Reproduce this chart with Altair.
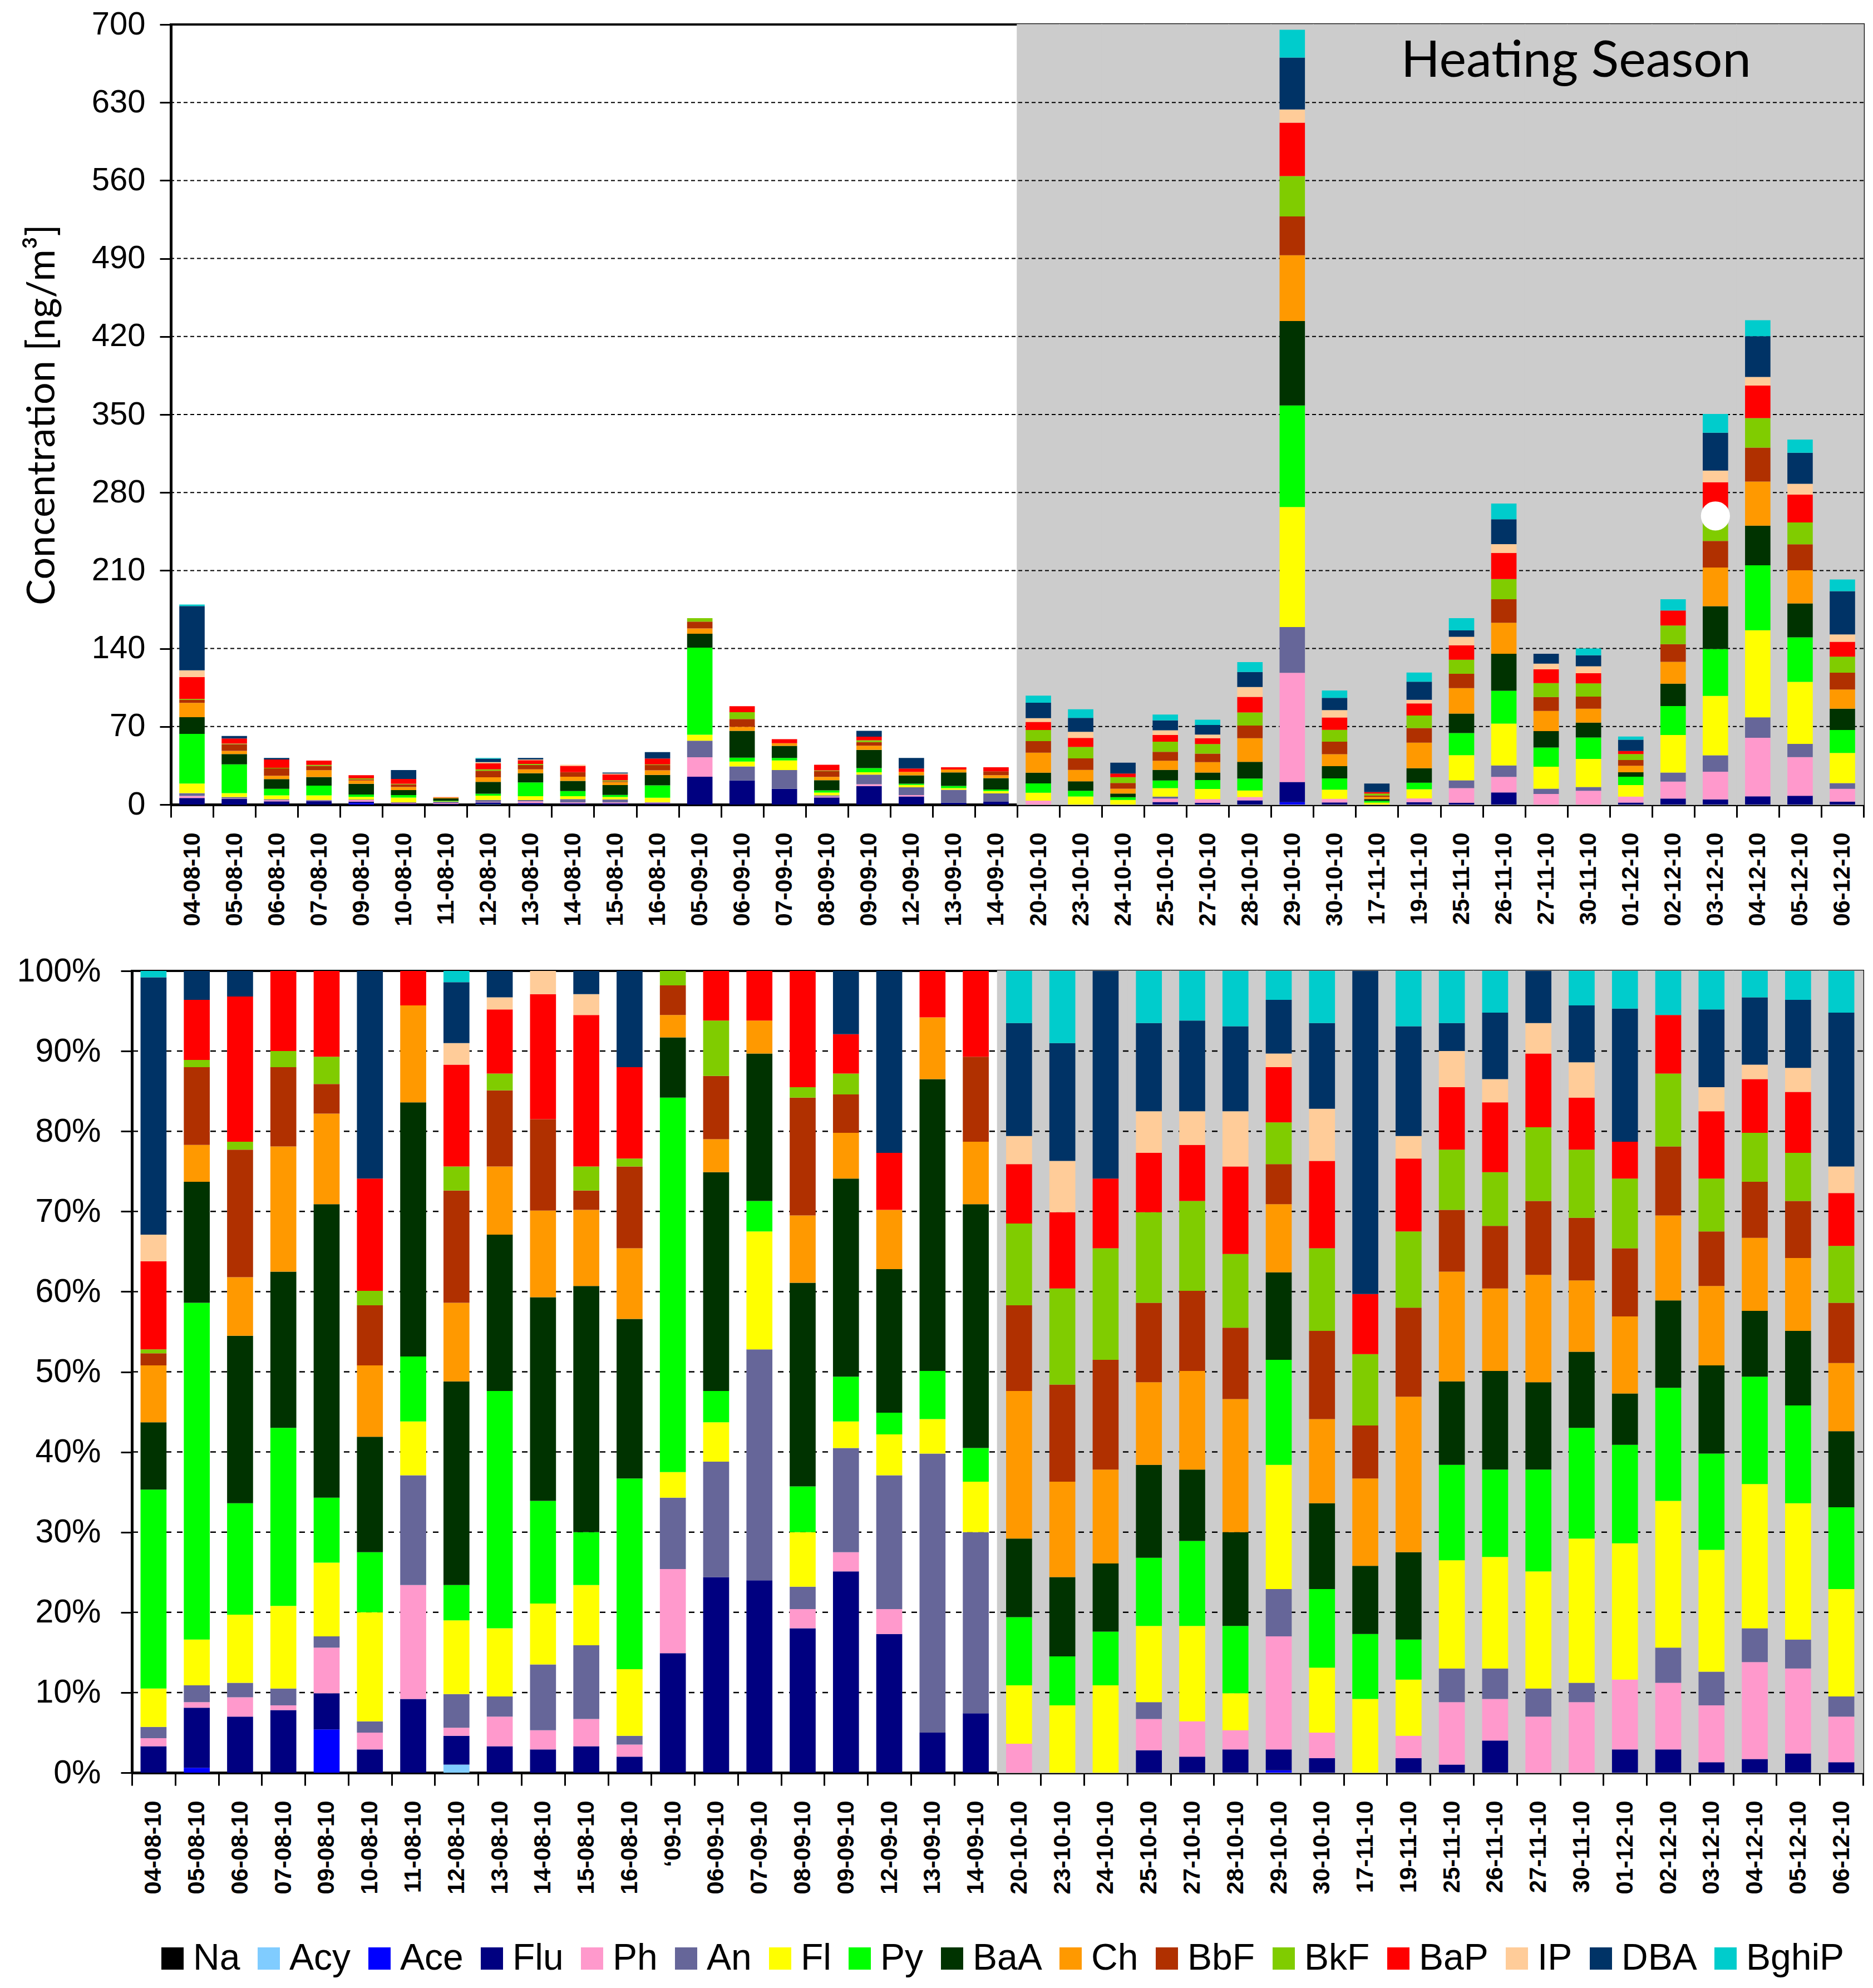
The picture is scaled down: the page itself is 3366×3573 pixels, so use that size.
import altair as alt
import pandas as pd

DATES = ["04-08-10", "05-08-10", "06-08-10", "07-08-10", "09-08-10", "10-08-10", "11-08-10",
         "12-08-10", "13-08-10", "14-08-10", "15-08-10", "16-08-10", "05-09-10", "06-09-10",
         "07-09-10", "08-09-10", "09-09-10", "12-09-10", "13-09-10", "14-09-10", "20-10-10",
         "23-10-10", "24-10-10", "25-10-10", "27-10-10", "28-10-10", "29-10-10", "30-10-10",
         "17-11-10", "19-11-10", "25-11-10", "26-11-10", "27-11-10", "30-11-10", "01-12-10",
         "02-12-10", "03-12-10", "04-12-10", "05-12-10", "06-12-10"]

HEATING = ["20-10-10", "23-10-10", "24-10-10", "25-10-10", "27-10-10", "28-10-10", "29-10-10",
           "30-10-10", "17-11-10", "19-11-10", "25-11-10", "26-11-10", "27-11-10", "30-11-10",
           "01-12-10", "02-12-10", "03-12-10", "04-12-10", "05-12-10", "06-12-10"]

# total concentration per sample [ng/m3]
TOTAL = [179.5, 61.5, 41.8, 39.5, 26.3, 31.0, 6.6, 41.8, 41.8, 35.7, 28.7, 47.0, 167.2, 88.3,
         58.7, 35.7, 66.2, 41.8, 33.4, 33.4, 97.7, 85.5, 37.6, 80.8, 76.1, 127.8, 695.3, 102.4,
         18.8, 118.4, 167.2, 270.1, 135.3, 140.0, 61.1, 184.2, 350.5, 434.6, 327.5, 202.0]

SPECIES = ["Na", "Acy", "Ace", "Flu", "Ph", "An", "Fl", "Py", "BaA", "Ch", "BbF", "BkF",
           "BaP", "IP", "DBA", "BghiP"]
COLORS = ["#000000", "#80CCFF", "#0000FF", "#000080", "#FF99CC", "#666699", "#FFFF00",
          "#00FF00", "#003300", "#FF9900", "#B03000", "#80CC00", "#FF0000", "#FFCC99",
          "#003366", "#00CCCC"]

# share of each compound in every sample [%]
NA = [0] * 40
ACY = [0, 0, 0, 0, 0, 0, 0, 1.0, 0, 0, 0, 0, 0, 0, 0, 0, 0, 0, 0, 0,
       0, 0, 0, 0, 0, 0, 0, 0, 0, 0, 0, 0, 0, 0, 0, 0, 0, 0, 0, 0]
ACE = [0, 0.6, 0, 0, 5.4, 0, 0, 0, 0, 0, 0, 0, 0, 0, 0, 0, 0, 0, 0, 0,
       0, 0, 0, 0, 0, 0, 0.3, 0, 0, 0, 0, 0, 0, 0, 0, 0, 0, 0, 0, 0]
FLU = [3.3, 7.5, 7.0, 7.8, 4.5, 2.9, 9.2, 3.6, 3.3, 2.9, 3.3, 2.0, 14.9, 24.4, 24.0, 18.0, 25.1,
       17.3, 5.0, 7.4, 0, 0, 0, 2.8, 2.0, 2.9, 2.6, 1.8, 0, 1.8, 1.0, 4.0, 0, 0, 2.9, 2.9, 1.3,
       1.7, 2.4, 1.3]
PH = [1.0, 0.7, 2.4, 0.6, 5.7, 2.1, 14.2, 1.0, 3.7, 2.4, 3.4, 1.5, 10.5, 0, 0, 2.4, 2.4, 3.1,
      0, 0, 3.6, 0, 0, 3.9, 4.4, 2.4, 14.1, 3.2, 0, 2.8, 7.8, 5.2, 7.0, 8.8, 8.7, 8.3, 7.1,
      12.1, 10.6, 5.7]
AN = [1.4, 2.1, 1.8, 2.1, 1.4, 1.4, 13.7, 4.2, 2.5, 8.2, 9.2, 1.1, 8.9, 14.4, 28.8, 2.8, 13.0,
      16.7, 34.8, 22.6, 0, 0, 0, 2.1, 0, 0, 5.9, 0, 0, 0, 4.2, 3.8, 3.5, 2.4, 0, 4.4, 4.2, 4.2,
      3.6, 2.5]
FL = [4.8, 5.7, 8.5, 10.3, 9.2, 13.6, 6.7, 9.2, 8.5, 7.6, 7.5, 8.3, 3.2, 4.9, 14.7, 6.8, 3.3,
      5.1, 4.3, 6.3, 7.3, 8.4, 10.9, 9.5, 11.9, 4.6, 15.5, 8.1, 9.2, 7.0, 13.5, 13.9, 14.6,
      18.0, 17.0, 18.3, 15.2, 18.0, 17.0, 13.4]
PY = [24.8, 42.0, 13.9, 22.2, 8.1, 7.5, 8.1, 4.4, 29.6, 12.8, 6.6, 23.8, 46.7, 3.9, 3.8, 5.7,
      5.6, 2.7, 6.0, 4.2, 8.5, 6.1, 6.7, 8.5, 10.6, 8.4, 13.1, 9.8, 8.1, 5.0, 11.9, 10.9, 12.7,
      13.8, 12.3, 14.1, 12.0, 13.4, 12.2, 10.2]
BAA = [8.4, 15.1, 20.9, 19.5, 36.6, 14.4, 31.7, 25.4, 19.5, 25.4, 30.7, 19.9, 7.5, 27.3, 18.4,
       25.4, 24.7, 17.9, 36.4, 30.4, 9.8, 9.9, 8.5, 11.6, 8.9, 11.7, 10.9, 10.7, 8.5, 10.9,
       10.4, 12.3, 10.9, 9.5, 6.4, 10.9, 11.0, 8.2, 9.3, 9.5]
CH = [7.1, 4.6, 7.3, 15.6, 11.3, 8.9, 12.1, 9.8, 8.5, 10.8, 9.5, 8.8, 2.8, 4.1, 4.1, 8.4, 5.7,
      7.4, 7.7, 7.8, 18.4, 11.9, 11.7, 10.3, 12.3, 16.6, 8.5, 10.5, 10.9, 19.4, 13.7, 10.3,
      13.4, 8.9, 9.6, 10.6, 9.9, 9.1, 9.1, 8.5]
BBF = [1.5, 9.7, 15.9, 9.9, 3.7, 7.5, 0, 14.0, 9.5, 11.4, 2.4, 10.2, 3.7, 7.9, 0, 14.7, 4.8, 0,
       0, 10.6, 10.7, 12.1, 13.7, 9.9, 10.0, 8.9, 5.0, 11.0, 6.6, 11.1, 7.7, 7.8, 9.2, 7.8, 8.5,
       8.6, 6.8, 7.0, 7.1, 7.5]
BKF = [0.5, 0.9, 1.0, 2.0, 3.4, 1.8, 0, 3.0, 2.1, 0, 3.0, 1.0, 1.8, 6.9, 0, 1.3, 2.6, 0, 0, 0,
       10.2, 12.0, 13.9, 11.3, 11.2, 9.2, 5.2, 10.3, 8.9, 9.5, 7.5, 6.7, 9.2, 8.5, 8.7, 9.1,
       6.6, 6.1, 6.0, 7.1]
BAP = [11.0, 7.5, 18.1, 10.0, 10.7, 14.0, 4.3, 12.7, 8.0, 15.6, 18.9, 11.4, 0, 6.2, 6.2, 14.5,
       4.9, 7.1, 5.8, 10.7, 7.4, 9.5, 8.7, 7.4, 7.0, 10.9, 6.9, 10.9, 7.5, 9.1, 7.8, 8.7, 9.2,
       6.5, 4.6, 7.3, 8.4, 6.7, 7.6, 6.6]
IP = [3.3, 0, 0, 0, 0, 0, 0, 2.7, 1.5, 2.9, 2.6, 0, 0, 0, 0, 0, 0, 0, 0, 0, 3.5, 6.4, 0, 5.2,
      4.2, 6.9, 1.7, 6.5, 0, 2.8, 4.5, 2.9, 3.8, 4.4, 0, 0, 3.0, 1.8, 3.0, 3.3]
DBA = [32.1, 3.6, 3.2, 0, 0, 25.9, 0, 7.6, 3.3, 0, 2.9, 12.0, 0, 0, 0, 0, 7.9, 22.7, 0, 0,
       14.1, 14.7, 25.9, 11.0, 11.3, 10.6, 6.7, 10.7, 40.3, 13.7, 3.5, 8.3, 6.5, 7.1, 16.6, 0,
       9.7, 8.4, 8.5, 19.2]
BGHIP = [0.8, 0, 0, 0, 0, 0, 0, 1.4, 0, 0, 0, 0, 0, 0, 0, 0, 0, 0, 0, 0, 6.5, 9.0, 0, 6.5, 6.2,
         6.9, 3.6, 6.5, 0, 6.9, 6.5, 5.2, 0, 4.3, 4.7, 5.5, 4.8, 3.3, 3.6, 5.2]

SHARES = [NA, ACY, ACE, FLU, PH, AN, FL, PY, BAA, CH, BBF, BKF, BAP, IP, DBA, BGHIP]

TOP_GRID = [70, 140, 210, 280, 350, 420, 490, 560, 630]
TOP_TICKS = [0, 70, 140, 210, 280, 350, 420, 490, 560, 630, 700]
BOT_GRID = [0.1, 0.2, 0.3, 0.4, 0.5, 0.6, 0.7, 0.8, 0.9]
BOT_TICKS = [0, 0.1, 0.2, 0.3, 0.4, 0.5, 0.6, 0.7, 0.8, 0.9, 1.0]

LABEL_NOTE = ["Heating Season"]
MARKER_DATE = ["03-12-10"]
MARKER_VALUE = [259]

rows = []
for si, (name, arr) in enumerate(zip(SPECIES, SHARES)):
    for di, d in enumerate(DATES):
        if arr[di] > 0:
            rows.append({"date": d, "species": name, "idx": si, "pct": arr[di],
                         "conc": arr[di] * TOTAL[di] / 100.0})
df = pd.DataFrame(rows)

bg_top = pd.DataFrame({"date": HEATING, "lo": 0, "hi": 700})
bg_bot = pd.DataFrame({"date": HEATING, "lo": 0.0, "hi": 1.0})
grid_top = pd.DataFrame({"v": TOP_GRID})
grid_bot = pd.DataFrame({"v": BOT_GRID})
note_df = pd.DataFrame({"date": ["04-12-10"], "y": [653], "text": LABEL_NOTE})
marker_df = pd.DataFrame({"date": MARKER_DATE, "y": MARKER_VALUE})

GREY = "#CCCCCC"
XFONT = "Liberation Sans"


def x_enc(bottom=False):
    ax = dict(title=None, labelAngle=-90, tickBand="extent", labelFont=XFONT,
              labelFontSize=42, labelFontWeight="bold", labelColor="black",
              labelPadding=27, tickSize=23, tickWidth=3, tickColor="black",
              domainWidth=5, domainColor="black", labelOverlap=False, labelLimit=0,
              grid=False)
    if bottom:
        ax["labelExpr"] = "datum.value == '05-09-10' ? '\u201809-10' : datum.value"
    return alt.X("date:N", scale=alt.Scale(domain=DATES, paddingInner=0, paddingOuter=0),
                 axis=alt.Axis(**ax))


legend = alt.Legend(title=None, orient="none", legendX=253, legendY=3443,
                    direction="horizontal", columns=16, symbolType="square",
                    symbolSize=1600, symbolStrokeWidth=0, labelFont="Liberation Sans",
                    labelFontSize=66, labelColor="black", labelLimit=0, labelOffset=4,
                    columnPadding=18, padding=0)
color = alt.Color("species:N", scale=alt.Scale(domain=SPECIES, range=COLORS), legend=legend)
order = alt.Order("idx:Q", sort="ascending")

yax_top = alt.Axis(title="Concentration [ng/m³]", values=TOP_TICKS, grid=False,
                   labelFont="Liberation Sans", labelFontSize=58, labelColor="black",
                   labelPadding=26, tickSize=20, tickWidth=3, tickColor="black",
                   domainWidth=5, domainColor="black", titleFont="Lato", titleFontSize=70,
                   titleFontWeight="normal", titleColor="black", titlePadding=52)
yscale_top = alt.Scale(domain=[0, 700], nice=False)

top_bg = alt.Chart(bg_top).mark_bar(color=GREY, stroke=GREY, strokeWidth=1.5).encode(
    x=x_enc(), y=alt.Y("lo:Q", scale=yscale_top, axis=yax_top), y2="hi:Q")
top_grid = alt.Chart(grid_top).mark_rule(color="black", strokeWidth=2, strokeDash=[7, 5]).encode(
    y=alt.Y("v:Q", scale=yscale_top, axis=yax_top))
top_bars = alt.Chart(df).mark_bar(width=alt.RelativeBandSize(0.6)).encode(
    x=x_enc(), y=alt.Y("conc:Q", stack="zero", scale=yscale_top, axis=yax_top),
    color=color, order=order)
top_note = alt.Chart(note_df).mark_text(align="right", baseline="alphabetic", font="Lato",
                                        fontSize=92, color="black", dx=-12).encode(
    x=x_enc(), y=alt.Y("y:Q", scale=yscale_top, axis=yax_top), text="text:N")
top_marker = alt.Chart(marker_df).mark_circle(size=2730, color="white", opacity=1).encode(
    x=x_enc(), y=alt.Y("y:Q", scale=yscale_top, axis=yax_top))

top = alt.layer(top_bg, top_grid, top_bars, top_note, top_marker).properties(
    width=3042, height=1402)

yax_bot = alt.Axis(title=None, values=BOT_TICKS, format=".0%", grid=False,
                   labelFont="Liberation Sans", labelFontSize=59, labelColor="black",
                   labelPadding=36, tickSize=20, tickWidth=3, tickColor="black",
                   domainWidth=5, domainColor="black")
yscale_bot = alt.Scale(domain=[0, 1], nice=False)

bot_bg = alt.Chart(bg_bot).mark_bar(color=GREY, stroke=GREY, strokeWidth=1.5).encode(
    x=x_enc(True), y=alt.Y("lo:Q", scale=yscale_bot, axis=yax_bot), y2="hi:Q")
bot_grid = alt.Chart(grid_bot).mark_rule(color="black", strokeWidth=2.5, strokeDash=[10, 10]).encode(
    y=alt.Y("v:Q", scale=yscale_bot, axis=yax_bot))
bot_bars = alt.Chart(df).mark_bar(width=alt.RelativeBandSize(0.6)).encode(
    x=x_enc(True), y=alt.Y("pct:Q", stack="normalize", scale=yscale_bot, axis=yax_bot),
    color=color, order=order)

bottom = alt.layer(bot_bg, bot_grid, bot_bars).properties(width=3111, height=1441)


def spacer(w):
    return alt.Chart(pd.DataFrame({"s": [0]})).mark_point(opacity=0).encode(
        x=alt.X("s:Q", axis=None), y=alt.Y("s:Q", axis=None)
    ).properties(width=w, height=1,
                 view=alt.ViewBackground(stroke="transparent", strokeWidth=0))


row_top = alt.hconcat(spacer(15), top, spacing=0)
row_bot = alt.hconcat(spacer(1), bottom, spacing=0)

chart = alt.vconcat(row_top, row_bot, spacing=47).properties(
    padding={"left": 13, "top": 5, "right": 0, "bottom": 5},
    background="white",
).configure_view(stroke="black", strokeWidth=4)

chart.save("out.html", embed_options={"renderer": "svg", "actions": False})
